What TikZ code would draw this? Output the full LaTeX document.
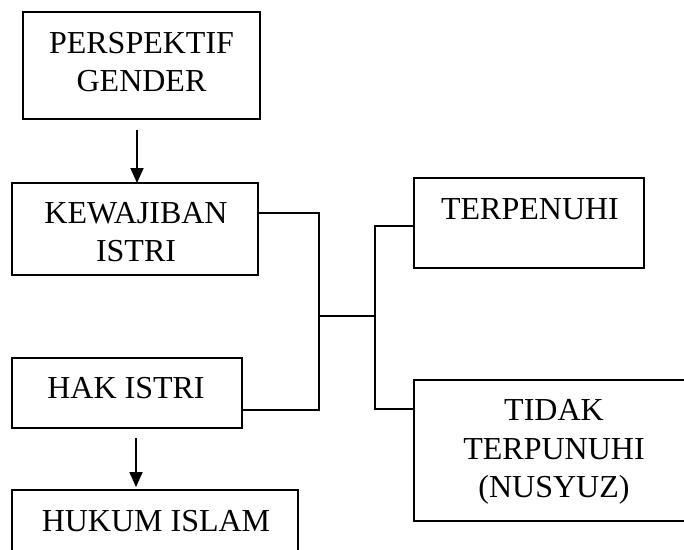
\documentclass[tikz,border=0pt]{standalone}
\usepackage{fontspec}
\setmainfont{Liberation Serif}
\usetikzlibrary{arrows.meta}
\begin{document}
\begin{tikzpicture}[x=1pt,y=-1pt,
  box/.style={draw,line width=1.8pt,rectangle,inner sep=0pt,outer sep=0pt},
  txt/.style={inner sep=0pt,outer sep=0pt,align=center,font=\fontsize{32}{38.4}\selectfont},
  conn/.style={line width=1.4pt},
  arr/.style={line width=1.8pt,-{Triangle[length=15pt,width=13pt]}}]
\useasboundingbox (0,0) rectangle (684,549);
\clip (0,0) rectangle (684,549);
% boxes
\node[box,minimum width=237pt,minimum height=107pt] (P) at (141.5,65.5) {};
\node[box,minimum width=246pt,minimum height=92pt] (K) at (135,229) {};
\node[box,minimum width=230pt,minimum height=70pt] (H) at (127,393) {};
\node[box,minimum width=286pt,minimum height=90pt] (HI) at (155,535) {};
\node[box,minimum width=230pt,minimum height=90pt] (T) at (529,223) {};
\node[box,minimum width=280pt,minimum height=141pt] (N) at (554,450.5) {};
% texts
\node[txt] (Pt) at (141.5,62) {PERSPEKTIF\\GENDER};
\node[txt] (Kt) at (136,232) {KEWAJIBAN\\ISTRI};
\node[txt,anchor=base] (Ht) at (126,398) {HAK ISTRI};
\node[txt,anchor=base] (HIt) at (156,531) {HUKUM ISLAM};
\node[txt,anchor=base] (Tt) at (530,219) {TERPENUHI};
\node[txt] (Nt) at (554,452) {TIDAK\\TERPUNUHI\\(NUSYUZ)};
% connectors
\coordinate (j1) at (319,316);
\coordinate (j2) at (375,316);
\draw[conn] (K.east |- 0,213) -| (j1) |- (H.east |- 0,410);
\draw[conn] (j1) -- (j2);
\draw[conn] (T.west |- 0,226) -| (j2) |- (N.west |- 0,409);
% arrows
\draw[arr,shorten <=11pt] (P.south -| 137,0) -- (K.north -| 137,0);
\draw[arr,shorten <=10pt,shorten >=3pt] (H.south -| 136,0) -- (HI.north -| 136,0);
\end{tikzpicture}
\end{document}
